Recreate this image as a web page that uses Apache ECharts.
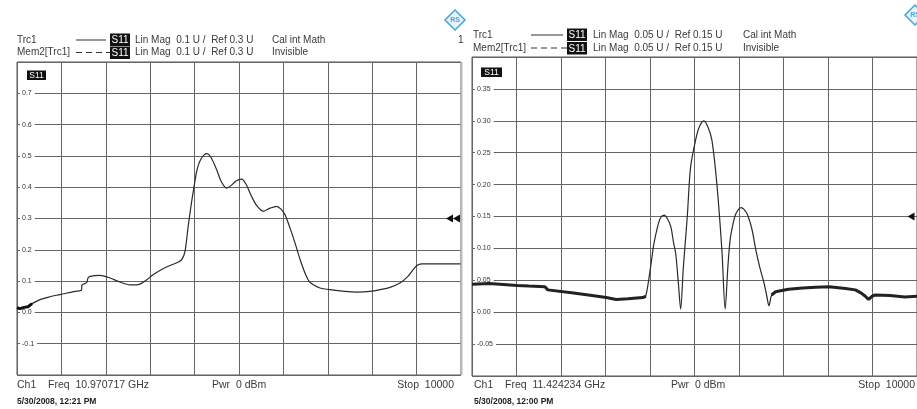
<!DOCTYPE html>
<html>
<head>
<meta charset="utf-8">
<script src="https://cdn.jsdelivr.net/npm/echarts@6/dist/echarts.min.js"></script>
<style>
  html, body { margin: 0; padding: 0; background: #fff; }
  #chart { width: 917px; height: 409px; }
</style>
</head>
<body>
<div id="chart"></div>
<script>
var leftX = [0, 68, 158, 248, 338, 518, 743, 968, 1126, 1306, 1452, 1464, 1531, 1577, 1599, 1644, 1869, 2094, 2320, 2545, 2703, 2883, 3063, 3266, 3446, 3626, 3716, 3784, 3851, 3919, 3986, 4054, 4144, 4272, 4369, 4497, 4594, 4722, 4819, 4932, 5060, 5157, 5285, 5405, 5547, 5698, 5848, 5946, 6036, 6148, 6261, 6374, 6486, 6576, 6673, 6824, 7050, 7387, 7658, 7950, 8176, 8401, 8626, 8806, 8941, 9037, 9120, 10000];
var leftS11 = [0.015, 0.012, 0.016, 0.018, 0.028, 0.041, 0.050, 0.057, 0.062, 0.067, 0.071, 0.088, 0.092, 0.097, 0.110, 0.115, 0.118, 0.110, 0.097, 0.088, 0.088, 0.100, 0.120, 0.138, 0.150, 0.160, 0.170, 0.195, 0.270, 0.340, 0.400, 0.455, 0.490, 0.507, 0.495, 0.456, 0.420, 0.397, 0.405, 0.420, 0.426, 0.410, 0.370, 0.340, 0.323, 0.333, 0.339, 0.330, 0.312, 0.270, 0.222, 0.170, 0.126, 0.100, 0.088, 0.078, 0.0725, 0.067, 0.065, 0.067, 0.0725, 0.080, 0.094, 0.115, 0.140, 0.152, 0.155, 0.155];

var rightX = [0, 393, 1016, 1282, 1638, 1704, 2282, 2616, 3016, 3238, 3505, 3838, 3905, 4022, 4082, 4171, 4238, 4320, 4394, 4468, 4527, 4578, 4638, 4689, 4749, 4838, 4911, 5022, 5104, 5209, 5304, 5393, 5504, 5616, 5689, 5749, 5800, 5871, 5935, 6046, 6113, 6195, 6291, 6380, 6469, 6565, 6625, 6673, 6733, 6822, 7111, 7431, 7726, 8022, 8393, 8615, 8749, 8838, 8911, 8993, 9060, 9393, 9727, 10000];
var rightS11 = [0.044, 0.045, 0.042, 0.041, 0.040, 0.035, 0.030, 0.027, 0.023, 0.020, 0.021, 0.023, 0.025, 0.075, 0.105, 0.134, 0.148, 0.152, 0.146, 0.134, 0.110, 0.092, 0.045, 0.005, 0.070, 0.150, 0.227, 0.269, 0.290, 0.300, 0.290, 0.269, 0.200, 0.097, 0.005, 0.070, 0.113, 0.140, 0.155, 0.164, 0.161, 0.152, 0.130, 0.097, 0.070, 0.045, 0.025, 0.010, 0.027, 0.032, 0.036, 0.038, 0.039, 0.040, 0.037, 0.035, 0.030, 0.025, 0.020, 0.025, 0.027, 0.026, 0.024, 0.025];

var leftRef = 0.3, rightRef = 0.15;

var FONT = 'Liberation Sans, Arial, sans-serif';
var txt = '#3a3a3a';
var trace = '#2a2a2a';
var gridCol = '#666';
var logoCol = '#45a6d6';

function pairs(xs, ys) {
  return xs.map(function (x, i) { return [x, ys[i]]; });
}
// noisy floor of the trace drawn thicker
function floor(xs, ys, keep) {
  return xs.map(function (x, i) { return [x, keep(x) ? ys[i] : null]; });
}

var chart = echarts.init(document.getElementById('chart'), null, { renderer: 'canvas' });

function xAx(gi) {
  return {
    type: 'value', gridIndex: gi, min: 0, max: 10000, interval: 1000,
    axisLine: { show: false }, axisTick: { show: false }, axisLabel: { show: false },
    splitLine: { show: true, lineStyle: { color: gridCol, width: 1 } }
  };
}
function yAx(gi, min, max, step, dec) {
  return {
    type: 'value', gridIndex: gi, min: min, max: max, interval: step,
    axisLine: { show: false }, axisTick: { show: false },
    axisLabel: {
      inside: true, margin: 3, fontSize: 7, fontFamily: FONT, color: '#333',
      backgroundColor: '#fff', padding: [0, 3, 0, 2],
      showMinLabel: false, showMaxLabel: false,
      formatter: function (v) { return v.toFixed(dec); }
    },
    splitLine: { show: true, lineStyle: { color: gridCol, width: 1 } }
  };
}
function t(x, y, s, size, opts) {
  opts = opts || {};
  return {
    type: 'text', x: x, y: y, z: 10,
    style: {
      text: s, font: (opts.bold ? 'bold ' : '') + size + 'px ' + FONT,
      fill: opts.fill || txt, align: opts.align || 'left', verticalAlign: 'middle'
    }
  };
}
function box(x, y, w, h, size) {
  return [
    { type: 'rect', z: 10, shape: { x: x, y: y, width: w, height: h }, style: { fill: '#111' } },
    t(x + w / 2, y + h / 2 + 0.5, 'S11', size, { fill: '#fff', align: 'center' })
  ];
}
function logo(cx, cy, r) {
  return [
    { type: 'polygon', z: 10, shape: { points: [[cx, cy - r], [cx + r, cy], [cx, cy + r], [cx - r, cy]] },
      style: { fill: '#e8f4fb', stroke: logoCol, lineWidth: 1.5 } },
    t(cx, cy, 'RS', 7, { fill: logoCol, align: 'center', bold: true })
  ];
}
function header(x0, xLine, xBox, xMag, xCal, y1, y2, mag) {
  return [
    t(x0, y1, 'Trc1', 10),
    t(x0, y2, 'Mem2[Trc1]', 10),
    { type: 'line', z: 10, shape: { x1: xLine, y1: y1, x2: xBox - 4, y2: y1 }, style: { stroke: '#333', lineWidth: 1 } },
    { type: 'line', z: 10, shape: { x1: xLine, y1: y2, x2: xBox, y2: y2 }, style: { stroke: '#333', lineWidth: 1, lineDash: [6, 4] } },
    t(xMag, y1, mag, 10),
    t(xMag, y2, mag, 10),
    t(xCal, y1, 'Cal int Math', 10),
    t(xCal, y2, 'Invisible', 10)
  ].concat(box(xBox, y1 - 6.5, 20, 12.5, 10), box(xBox, y2 - 6, 20, 12.5, 10));
}
function footer(x0, xPwr, xStop, freq, date) {
  return [
    t(x0, 385, 'Ch1', 10.5),
    t(x0 + 31, 385, 'Freq  ' + freq, 10.5),
    t(xPwr, 385, 'Pwr  0 dBm', 10.5),
    t(xStop, 385, 'Stop  10000', 10.5, { align: 'right' }),
    t(x0, 402, date, 8.5, { bold: true, fill: '#222' })
  ];
}

var graphics = []
  .concat(header(17, 76, 110, 135, 272, 40, 52.5, 'Lin Mag  0.1 U /  Ref 0.3 U'))
  .concat(header(473, 531, 567, 593, 743, 35, 48, 'Lin Mag  0.05 U /  Ref 0.15 U'))
  .concat(box(27, 70.5, 19, 9.5, 8.5))
  .concat(box(481, 67.5, 21, 9.5, 8.5))
  .concat(logo(455, 20, 10))
  .concat(logo(915, 15, 10))
  .concat([t(458, 40, '1', 10)])
  .concat(footer(17, 212, 454, '10.970717 GHz', '5/30/2008, 12:21 PM'))
  .concat(footer(474, 671, 915, '11.424234 GHz', '5/30/2008, 12:00 PM'))
  // right edge of the left screen is a light frame
  .concat([{ type: 'line', z: 5, shape: { x1: 461.5, y1: 62, x2: 461.5, y2: 375 }, style: { stroke: '#bbb', lineWidth: 2 } }]);

function refMark(y, offsets) {
  return {
    symbol: 'triangle', symbolRotate: 90, symbolSize: [8, 7], silent: true,
    label: { show: false }, itemStyle: { color: '#111' },
    data: offsets.map(function (o) { return { coord: [10000, y], symbolOffset: [o, 0] }; })
  };
}

chart.setOption({
  animation: false,
  backgroundColor: '#fff',
  grid: [
    { left: 17, top: 62, width: 444, height: 313, show: true, borderColor: '#555', borderWidth: 1 },
    { left: 472, top: 57, width: 450, height: 319, show: true, borderColor: '#555', borderWidth: 1 }
  ],
  xAxis: [xAx(0), xAx(1)],
  yAxis: [yAx(0, -0.2, 0.8, 0.1, 1), yAx(1, -0.1, 0.4, 0.05, 2)],
  graphic: graphics,
  series: [
    {
      type: 'line', xAxisIndex: 0, yAxisIndex: 0, data: pairs(leftX, leftS11),
      symbol: 'none', smooth: 0.3, lineStyle: { color: trace, width: 1.2 },
      markPoint: refMark(leftRef, [-4.5, -11.5])
    },
    {
      type: 'line', xAxisIndex: 0, yAxisIndex: 0,
      data: floor(leftX, leftS11, function (x) { return x <= 338; }),
      symbol: 'none', lineStyle: { color: '#111', width: 3 }
    },
    {
      type: 'line', xAxisIndex: 1, yAxisIndex: 1, data: pairs(rightX, rightS11),
      symbol: 'none', smooth: 0.3, lineStyle: { color: trace, width: 1.2 },
      markPoint: refMark(rightRef, [-6])
    },
    {
      type: 'line', xAxisIndex: 1, yAxisIndex: 1,
      data: floor(rightX, rightS11, function (x) { return x <= 3905 || x >= 6733; }),
      symbol: 'none', lineStyle: { color: '#222', width: 3 }
    }
  ]
});
window.addEventListener('resize', function () { chart.resize(); });
</script>
</body>
</html>
